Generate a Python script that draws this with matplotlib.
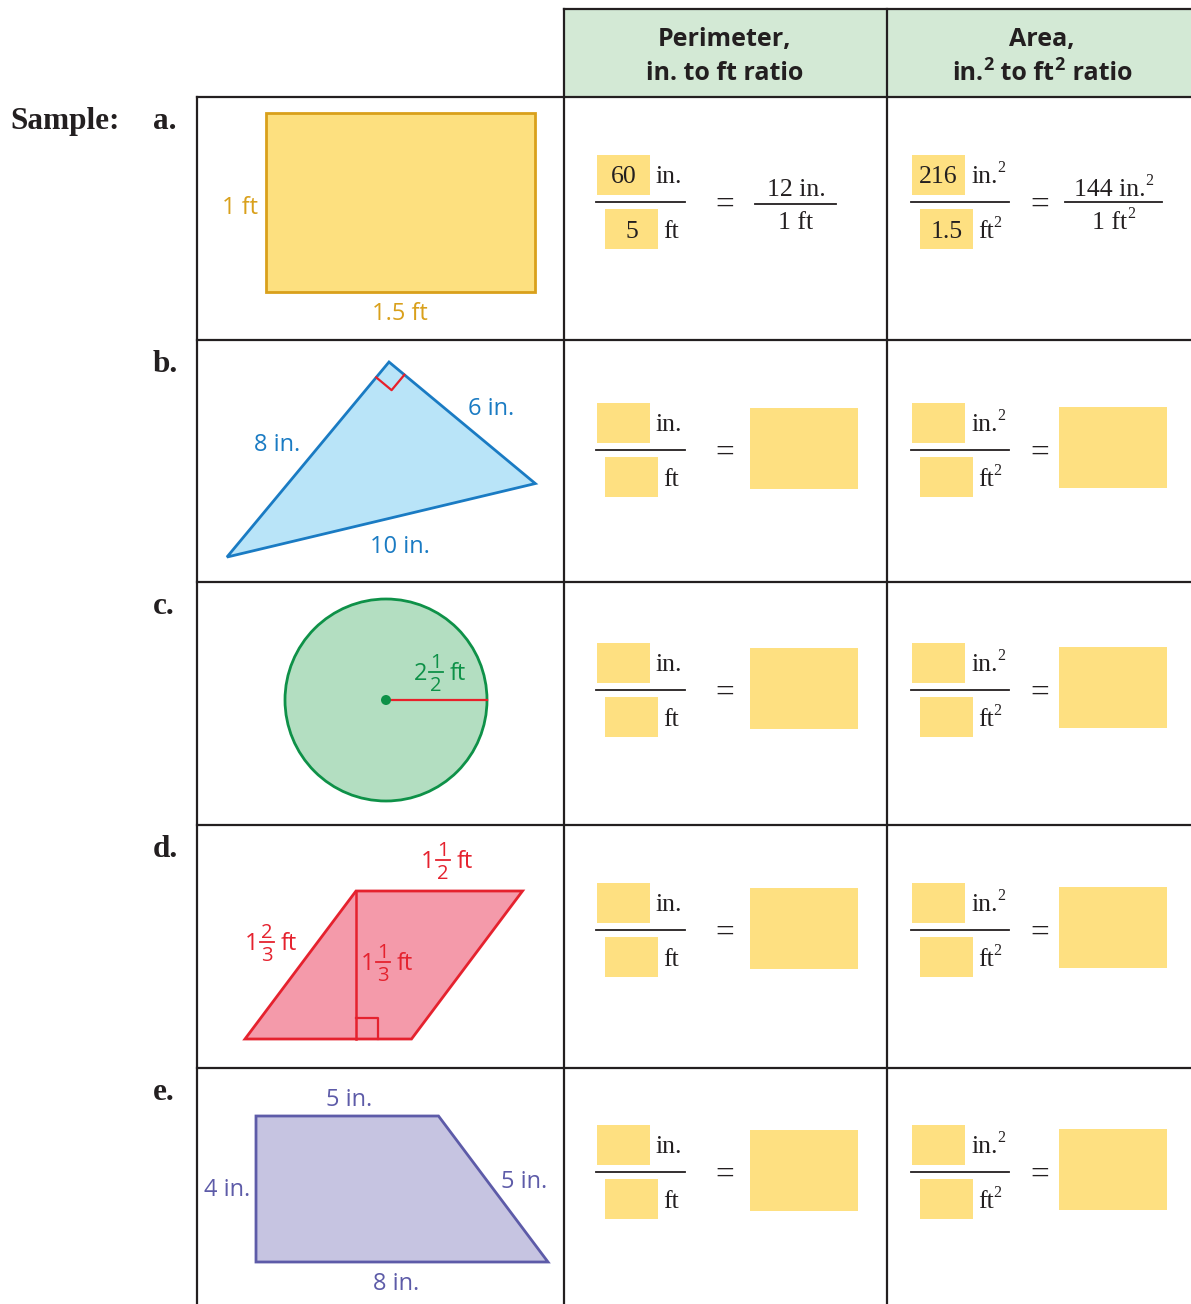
import numpy as np
import matplotlib
matplotlib.use('Agg')
import matplotlib.pyplot as plt
from matplotlib.patches import Polygon, Rectangle, Circle

# ---------------- data ----------------
header_perimeter = ['Perimeter,', 'in. to ft ratio']
header_area = ['Area,', [('in.', 0), ('2', 1), (' to ft', 0), ('2', 1), (' ratio', 0)]]
sample_label = 'Sample:'
row_labels = ['a.', 'b.', 'c.', 'd.', 'e.']
sample_perimeter = ['60', '5']
sample_perimeter_rate = ['12 in.', '1 ft']
sample_area = ['216', '1.5']
sample_area_rate = [[('144 in.', 0), ('2', 1)], [('1 ft', 0), ('2', 1)]]
unit_perimeter = [[('in.', 0)], [('ft', 0)]]
unit_area = [[('in.', 0), ('2', 1)], [('ft', 0), ('2', 1)]]

rect_dims_ft = [1.5, 1.0]                 # width, height
rect_labels = ['1.5 ft', '1 ft']
tri_legs_in = [8, 6]
tri_labels = ['8 in.', '6 in.', '10 in.']
circle_radius_ft = 2.5
circle_label = ('2', '1', '2', 'ft')
para_dims_ft = [1.5, 4 / 3, 5 / 3]       # base, height, slanted side
para_labels = [('1', '1', '2', 'ft'), ('1', '2', '3', 'ft'), ('1', '1', '3', 'ft')]
trap_dims_in = [5, 8, 4, 5]               # top, bottom, height, slanted side
trap_labels = ['5 in.', '4 in.', '5 in.', '8 in.']

# ---------------- style ----------------
W, H = 1191, 1304
LINE = '#231f20'
YEL = '#fee081'
HEAD = '#d3e9d5'
SANS = ['Open Sans', 'DejaVu Sans']
SERIF = ['Liberation Serif', 'DejaVu Serif']

fig = plt.figure(figsize=(W / 100, H / 100), dpi=100)
ax = fig.add_axes([0, 0, 1, 1])
ax.set_xlim(0, W)
ax.set_ylim(H, 0)
ax.axis('off')
renderer = fig.canvas.get_renderer()


def seq(x, y, pieces, fs, sup_fs, sup_dy, ha='left', **kw):
    """Draw a run of text pieces; pieces flagged 1 are superscripts."""
    objs = []
    cx = x
    for txt, sup in pieces:
        t = ax.text(cx, y - (sup_dy if sup else 0), txt, ha='left', va='baseline',
                    fontsize=sup_fs if sup else fs, **kw)
        w = t.get_window_extent(renderer).width
        objs.append(t)
        cx += w + (1 if sup else 0)
    total = cx - x
    if ha == 'center':
        for t in objs:
            px, py = t.get_position()
            t.set_x(px - total / 2)
    return total


# ---------------- table ----------------
row_tops = [97, 340, 582, 825, 1068]
ax.add_patch(Rectangle((564, 9), W - 564, 88, facecolor=HEAD, edgecolor='none', zorder=0))
lw = 1.6
ax.plot([564, W], [9, 9], color=LINE, lw=lw, solid_capstyle='projecting')
ax.plot([197, W], [97, 97], color=LINE, lw=lw)
for yt in row_tops[1:]:
    ax.plot([197, W], [yt, yt], color=LINE, lw=lw)
ax.plot([197, 197], [97, H], color=LINE, lw=lw)
ax.plot([564, 564], [9, H], color=LINE, lw=lw)
ax.plot([887, 887], [9, H], color=LINE, lw=lw)

hfs = 18
hkw = dict(fontweight='bold', family=SANS, color=LINE)
ax.text(725, 46, header_perimeter[0], ha='center', va='baseline', fontsize=hfs, **hkw)
ax.text(725, 80, header_perimeter[1], ha='center', va='baseline', fontsize=hfs, **hkw)
ax.text(1042, 46, header_area[0], ha='center', va='baseline', fontsize=hfs, **hkw)
seq(1042, 80, header_area[1], hfs, 13, 10, ha='center', **hkw)

# row labels
ax.text(10, 129, sample_label, ha='left', va='baseline', fontsize=22.5,
        fontweight='bold', family=SERIF, color=LINE)
for lab, yt in zip(row_labels, row_tops):
    ax.text(153, yt + 32, lab, ha='left', va='baseline', fontsize=22.5,
            fontweight='bold', family=SERIF, color=LINE)

# ---------------- ratio cells ----------------
cfs = 18.5
sfs = 11.5
sdy = 11
ckw = dict(family=SERIF, color=LINE)
frac_y = [202, 450, 690, 930, 1172]


def ratio_cell(x0, Y, units, num_txt=None, den_txt=None, bar_len=89):
    ax.add_patch(Rectangle((x0, Y - 47), 53, 40, facecolor=YEL, edgecolor='none'))
    ax.add_patch(Rectangle((x0 + 8, Y + 7), 53, 40, facecolor=YEL, edgecolor='none'))
    ax.plot([x0 - 1, x0 - 1 + bar_len], [Y, Y], color=LINE, lw=1.3)
    seq(x0 + 59, Y - 19, units[0], cfs, sfs, sdy, **ckw)
    seq(x0 + 66, Y + 36, units[1], cfs, sfs, sdy, **ckw)
    if num_txt is not None:
        ax.text(x0 + 26.5, Y - 19, num_txt, ha='center', va='baseline', fontsize=cfs, **ckw)
        ax.text(x0 + 34.5, Y + 36, den_txt, ha='center', va='baseline', fontsize=cfs, **ckw)


for i, Y in enumerate(frac_y):
    if i == 0:
        ratio_cell(597, Y, unit_perimeter, sample_perimeter[0], sample_perimeter[1])
        ratio_cell(912, Y, unit_area, sample_area[0], sample_area[1], bar_len=98)
        ax.text(796, Y - 6, sample_perimeter_rate[0], ha='center', va='baseline', fontsize=cfs, **ckw)
        ax.plot([755, 836], [Y + 2, Y + 2], color=LINE, lw=1.3)
        ax.text(796, Y + 27, sample_perimeter_rate[1], ha='center', va='baseline', fontsize=cfs, **ckw)
        seq(1114, Y - 6, sample_area_rate[0], cfs, sfs, sdy, ha='center', **ckw)
        ax.plot([1065, 1162], [Y, Y], color=LINE, lw=1.3)
        seq(1114, Y + 27, sample_area_rate[1], cfs, sfs, sdy, ha='center', **ckw)
    else:
        ratio_cell(597, Y, unit_perimeter)
        ratio_cell(912, Y, unit_area, bar_len=98)
        ax.add_patch(Rectangle((750, Y - 42), 108, 81, facecolor=YEL, edgecolor='none'))
        ax.add_patch(Rectangle((1059, Y - 43), 108, 81, facecolor=YEL, edgecolor='none'))
    ax.text(725, Y + 11.5, '=', ha='center', va='baseline', fontsize=24, **ckw)
    ax.text(1040, Y + 11.5, '=', ha='center', va='baseline', fontsize=24, **ckw)

# ---------------- shapes ----------------
lfs = 17
ffs = 14.5


def mixed(x, bar_y, parts, color):
    whole, num, den, unit = parts
    ax.text(x, bar_y + 8, whole, ha='left', va='baseline', fontsize=lfs, family=SANS, color=color)
    fx = x + 22
    ax.text(fx, bar_y - 4, num, ha='center', va='baseline', fontsize=ffs, family=SANS, color=color)
    ax.text(fx, bar_y + 19, den, ha='center', va='baseline', fontsize=ffs, family=SANS, color=color)
    ax.plot([fx - 7, fx + 7], [bar_y, bar_y], color=color, lw=1.3)
    ax.text(fx + 14, bar_y + 8, unit, ha='left', va='baseline', fontsize=lfs, family=SANS, color=color)


# a. rectangle
s = 179.0
rx, ry = 266, 113
gold_fill, gold = '#fde07f', '#d9a01b'
ax.add_patch(Rectangle((rx, ry), rect_dims_ft[0] * s, rect_dims_ft[1] * s,
                       facecolor=gold_fill, edgecolor=gold, lw=2))
ax.text(rx + rect_dims_ft[0] * s / 2, 320, rect_labels[0], ha='center', va='baseline',
        fontsize=lfs, family=SANS, color=gold)
ax.text(258, 214, rect_labels[1], ha='right', va='baseline', fontsize=lfs, family=SANS, color=gold)

# b. right triangle
s = 31.7
P = np.array([389.0, 362.0])
u8 = np.array([-162.0, 195.0]); u8 /= np.linalg.norm(u8)
u6 = np.array([u8[1], -u8[0]])
A = P + tri_legs_in[0] * s * u8
B = P + tri_legs_in[1] * s * u6
blue_fill, blue = '#b9e4f8', '#1a7bc3'
ax.add_patch(Polygon([P, B, A], closed=True, facecolor=blue_fill, edgecolor=blue, lw=2,
                     joinstyle='miter'))
m = 20
ra = np.array([P + m * u8, P + m * u8 + m * u6, P + m * u6])
ax.plot(ra[:, 0], ra[:, 1], color='#e8202a', lw=1.6)
ax.text(277, 451, tri_labels[0], ha='center', va='baseline', fontsize=lfs, family=SANS, color=blue)
ax.text(491, 415, tri_labels[1], ha='center', va='baseline', fontsize=lfs, family=SANS, color=blue)
ax.text(400, 553, tri_labels[2], ha='center', va='baseline', fontsize=lfs, family=SANS, color=blue)

# c. circle
s = 40.4
cx, cy = 386, 700
green_fill, green = '#b3dec1', '#0e9148'
r = circle_radius_ft * s
ax.add_patch(Circle((cx, cy), r, facecolor=green_fill, edgecolor=green, lw=2))
ax.plot([cx, cx + r], [cy, cy], color='#e8202a', lw=1.6)
ax.add_patch(Circle((cx, cy), 5, facecolor=green, edgecolor='none', zorder=5))
mixed(414, 672, circle_label, green)

# d. parallelogram
s = 111.0
red_fill, red = '#f49aaa', '#e5222e'
bx, by = 245, 1039
base, hgt, side = para_dims_ft
off = np.sqrt(side ** 2 - hgt ** 2)
pts = [(bx, by), (bx + base * s, by), (bx + (base + off) * s, by - hgt * s), (bx + off * s, by - hgt * s)]
ax.add_patch(Polygon(pts, closed=True, facecolor=red_fill, edgecolor=red, lw=2, joinstyle='miter'))
hx = bx + off * s
ax.plot([hx, hx], [by - hgt * s, by], color=red, lw=1.8)
ax.plot([hx, hx + 22, hx + 22], [by - 21, by - 21, by], color=red, lw=1.6)
mixed(421, 860, para_labels[0], red)
mixed(245, 942, para_labels[1], red)
mixed(361, 962, para_labels[2], red)

# e. trapezoid
s = 36.5
pur_fill, pur = '#c6c4e1', '#5d5ba8'
tx, ty = 256, 1116
top, bottom, th, tside = trap_dims_in
tpts = [(tx, ty), (tx + top * s, ty), (tx + bottom * s, ty + th * s), (tx, ty + th * s)]
ax.add_patch(Polygon(tpts, closed=True, facecolor=pur_fill, edgecolor=pur, lw=2, joinstyle='miter'))
ax.text(349, 1106, trap_labels[0], ha='center', va='baseline', fontsize=lfs, family=SANS, color=pur)
ax.text(250, 1196, trap_labels[1], ha='right', va='baseline', fontsize=lfs, family=SANS, color=pur)
ax.text(501, 1188, trap_labels[2], ha='left', va='baseline', fontsize=lfs, family=SANS, color=pur)
ax.text(396, 1290, trap_labels[3], ha='center', va='baseline', fontsize=lfs, family=SANS, color=pur)

fig.savefig('out.png', dpi=100)
